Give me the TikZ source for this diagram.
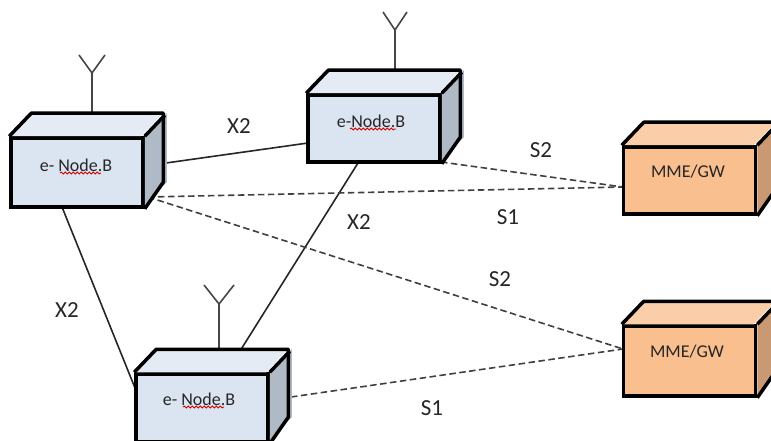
\documentclass[tikz,border=0pt]{standalone}
\usepackage{fontspec}
\setmainfont{Carlito}
\usetikzlibrary{decorations.pathmorphing}
\definecolor{bluefront}{RGB}{219,229,241}
\definecolor{bluetop}{RGB}{228,235,245}
\definecolor{blueside}{RGB}{176,186,198}
\definecolor{orgfront}{RGB}{250,191,143}
\definecolor{orgtop}{RGB}{251,206,170}
\definecolor{orgside}{RGB}{201,153,115}
\definecolor{antcol}{RGB}{70,70,70}
\tikzset{
  x=1pt,y=-1pt,
  front/.style={draw=black,line width=3.5pt,minimum width=132pt,minimum height=#1,inner sep=0pt,line join=miter},
  edge3d/.style={draw=black,line width=3.5pt,line join=round},
  xlink/.style={draw=black!85,line width=1.6pt},
  dlink/.style={draw=black!75,line width=1.6pt,dash pattern=on 6.5pt off 3.5pt},
  ant/.style={draw=antcol,line width=1.6pt},
  lbl/.style={font=\fontsize{23}{26}\selectfont,text=black!85,inner sep=0pt},
  boxtxt/.style={font=\fontsize{18}{20}\selectfont,text=black!85,inner sep=0pt},
  squig/.style={draw=red!85!black,line width=.9pt,decorate,decoration={snake,amplitude=.9pt,segment length=4pt}}
}
\newcommand{\cuboid}[4]{%
  \fill[#3] (#1.north west) -- ++(22,-23) -- ++(132,0) -- ++(-22,23) -- cycle;
  \fill[#4] (#1.north east) -- ++(22,-23) -- ++(0,#2) -- ++(-22,23) -- cycle;
  \draw[edge3d] (#1.north west) -- ++(22,-23) -- ++(132,0) -- ++(0,#2) -- (#1.south east);
  \draw[edge3d] (#1.north east) -- ++(20,-21);
}
\begin{document}
\begin{tikzpicture}
\useasboundingbox (0,0) rectangle (771,441);
\coordinate (a1) at (166,163); \coordinate (b1) at (308,143);
\coordinate (b2) at (358,163); \coordinate (c1) at (240,351);
\coordinate (a2) at (62,207);  \coordinate (c2) at (135,388);
\coordinate (a3) at (148,197); \coordinate (m1) at (623,187);
\coordinate (b3) at (441,162); \coordinate (m2) at (623,349);
\coordinate (c3) at (291,397);
\draw[xlink] (a1) -- (b1);
\draw[xlink] (b2) -- (c1);
\draw[xlink] (a2) -- (c2);
\draw[dlink] (a3) -- (m1);
\draw[dlink] (b3) -- (m1);
\draw[dlink] (a3) -- (m2);
\draw[dlink] (c3) -- (m2);
\coordinate (ta) at (92,116); \coordinate (ja) at (92,73); \coordinate (la) at (79,55); \coordinate (ra) at (105,55);
\coordinate (tb) at (395,72); \coordinate (jb) at (395,30); \coordinate (lb) at (383,12); \coordinate (rb) at (407,12);
\coordinate (tc) at (219,351); \coordinate (jc) at (219,304); \coordinate (lc) at (204,285); \coordinate (rc) at (234,285);
\draw[ant] (ta) -- (ja) (la) -- (ja) -- (ra);
\draw[ant] (tb) -- (jb) (lb) -- (jb) -- (rb);
\draw[ant] (tc) -- (jc) (lc) -- (jc) -- (rc);
\node[front=69pt,fill=bluefront] (A) at (77,172.5) {};
\cuboid{A}{69}{bluetop}{blueside}
\node[front=67pt,fill=bluefront] (B) at (374,128.5) {};
\cuboid{B}{67}{bluetop}{blueside}
\node[front=68pt,fill=bluefront] (C) at (202,408) {};
\cuboid{C}{68}{bluetop}{blueside}
\node[front=67pt,fill=orgfront] (M) at (689.5,180.5) {};
\cuboid{M}{67}{orgtop}{orgside}
\node[front=70pt,fill=orgfront] (N) at (689.5,361) {};
\cuboid{N}{70}{orgtop}{orgside}
\node[boxtxt] (ta1) at (76,165) {e- Node.B};
\node[boxtxt] (tb1) at (371,121) {e-Node.B};
\node[boxtxt] (tc1) at (199,399) {e- Node.B};
\node[boxtxt] (tm1) at (688,172) {MME/GW};
\node[boxtxt] (tn1) at (687,352) {MME/GW};
\coordinate (sa1) at (60,173); \coordinate (sa2) at (101,173);
\coordinate (sb1) at (350,129); \coordinate (sb2) at (396,129);
\coordinate (sc1) at (183,407); \coordinate (sc2) at (224,407);
\draw[squig] (sa1) -- (sa2);
\draw[squig] (sb1) -- (sb2);
\draw[squig] (sc1) -- (sc2);
\node[lbl] (x1) at (239,126) {X2};
\node[lbl] (x2) at (359,222) {X2};
\node[lbl] (x3) at (67,310) {X2};
\node[lbl] (s1) at (541,150) {S2};
\node[lbl] (s2) at (500,279) {S2};
\node[lbl] (s3) at (508,217) {S1};
\node[lbl] (s4) at (432,408) {S1};
\end{tikzpicture}
\end{document}
